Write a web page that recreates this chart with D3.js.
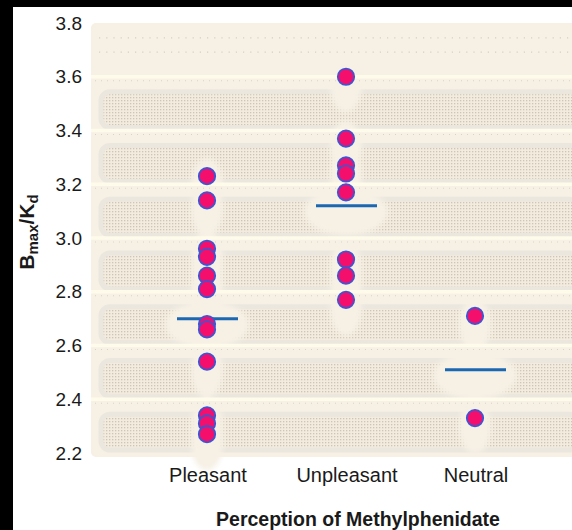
<!DOCTYPE html>
<html>
<head>
<meta charset="utf-8">
<script src="https://cdn.jsdelivr.net/npm/d3@7"></script>
<style>
  body { margin: 0; background: #000; }
  svg { display: block; }
  text { font-family: "Liberation Sans", Arial, Helvetica, sans-serif; fill: #1a1a1a; }
</style>
</head>
<body>
<div id="graphic"></div>
<script>
// data
var categories = ["Pleasant", "Unpleasant", "Neutral"];
var pleasant = [3.23, 3.14, 2.96, 2.93, 2.86, 2.81, 2.68, 2.66, 2.54, 2.34, 2.31, 2.27];
var unpleasant = [3.60, 3.37, 3.27, 3.24, 3.17, 2.92, 2.86, 2.77];
var neutral = [2.71, 2.33];
var means = [2.70, 3.12, 2.51];
var yTicks = [2.2, 2.4, 2.6, 2.8, 3.0, 3.2, 3.4, 3.6, 3.8];

var width = 572, height = 530;
var plotLeft = 91, plotTop = 23, plotBottom = 457;

var svg = d3.select("#graphic")
    .append("svg")
    .attr("width", width)
    .attr("height", height);

var y = d3.scaleLinear().domain([2.2, 3.8]).range([453, 23]);
var x = d3.scaleOrdinal().domain(categories).range([207, 346, 475]);

// flatten points
var points = [];
[pleasant, unpleasant, neutral].forEach(function(vals, i) {
    vals.forEach(function(v) {
        points.push({cat: categories[i], value: v});
    });
});

// defs: dot texture + soft blur
var defs = svg.append("defs");
var pat = defs.append("pattern")
    .attr("id", "dots")
    .attr("width", 3)
    .attr("height", 3)
    .attr("patternUnits", "userSpaceOnUse");
pat.append("rect").attr("width", 3).attr("height", 3).attr("fill", "#f3ecde");
pat.append("rect").attr("x", 1).attr("y", 1).attr("width", 1.3).attr("height", 1.3).attr("fill", "#cdc6b7");

defs.append("filter").attr("id", "soft")
    .append("feGaussianBlur").attr("stdDeviation", 2.5);

// white panel inside black frame
svg.append("rect")
    .attr("x", 13).attr("y", 7)
    .attr("width", width - 13).attr("height", height - 7)
    .attr("fill", "#ffffff");

// plot background
svg.append("rect")
    .attr("x", plotLeft).attr("y", plotTop)
    .attr("width", width - plotLeft + 10).attr("height", plotBottom - plotTop)
    .attr("rx", 5)
    .attr("fill", "#f6f0e5");

// textured bands between ticks (3.6 down to 2.2)
var bandTicks = yTicks.filter(function(t) { return t < 3.7; });
var bands = [];
for (var i = 0; i < bandTicks.length - 1; i++) {
    bands.push({lo: bandTicks[i], hi: bandTicks[i + 1]});
}
svg.append("g").selectAll("rect")
    .data(bands)
    .enter().append("rect")
    .attr("x", 101)
    .attr("y", function(d) { return y(d.hi) + 15; })
    .attr("width", width - 95)
    .attr("height", function(d) { return Math.min(y(d.lo) - 3, plotBottom) - (y(d.hi) + 15); })
    .attr("rx", 9)
    .attr("fill", "url(#dots)")
    .attr("stroke", "#ebe7df")
    .attr("stroke-width", 5);

// cleared areas around the points and mean lines
var halo = svg.append("g").attr("filter", "url(#soft)");
halo.selectAll("ellipse.pt")
    .data(points)
    .enter().append("ellipse")
    .attr("class", "pt")
    .attr("cx", function(d) { return x(d.cat); })
    .attr("cy", function(d) { return y(d.value) + 9; })
    .attr("rx", 16)
    .attr("ry", 27)
    .attr("fill", "#f6f0e5");
halo.selectAll("ellipse.mn")
    .data(means)
    .enter().append("ellipse")
    .attr("class", "mn")
    .attr("cx", function(d, i) { return x(categories[i]); })
    .attr("cy", function(d) { return y(d) + 6; })
    .attr("rx", 42)
    .attr("ry", 24)
    .attr("fill", "#f6f0e5");

// dotted rows in the top strip
svg.append("g").selectAll("line")
    .data([3.745, 3.692])
    .enter().append("line")
    .attr("x1", plotLeft + 8).attr("x2", width)
    .attr("y1", function(d) { return y(d); })
    .attr("y2", function(d) { return y(d); })
    .attr("stroke", "#d6d0c4")
    .attr("stroke-width", 1.2)
    .attr("stroke-dasharray", "1.2 6");

// light stripes at the ticks
var stripeTicks = yTicks.filter(function(t) { return t > 2.3 && t < 3.7; });
svg.append("g").selectAll("line")
    .data(stripeTicks)
    .enter().append("line")
    .attr("x1", plotLeft).attr("x2", width)
    .attr("y1", function(d) { return y(d); })
    .attr("y2", function(d) { return y(d); })
    .attr("stroke", "#fffbea")
    .attr("stroke-width", 3.5);
svg.append("g").selectAll("line")
    .data(stripeTicks)
    .enter().append("line")
    .attr("x1", plotLeft + 4).attr("x2", width)
    .attr("y1", function(d) { return y(d) + 4; })
    .attr("y2", function(d) { return y(d) + 4; })
    .attr("stroke", "#d9d3c6")
    .attr("stroke-width", 1)
    .attr("stroke-dasharray", "1 5");

// y axis labels
var yAxis = d3.axisLeft(y)
    .tickValues(yTicks)
    .tickSize(0)
    .tickPadding(9)
    .tickFormat(d3.format(".1f"));
var gy = svg.append("g")
    .attr("transform", "translate(" + plotLeft + ",0)")
    .call(yAxis);
gy.select(".domain").remove();
gy.selectAll("text")
    .attr("font-size", 19)
    .attr("fill", "#1a1a1a")
    .style("font-family", "'Liberation Sans', Arial, Helvetica, sans-serif");

// mean lines
svg.append("g").selectAll("line")
    .data(means)
    .enter().append("line")
    .attr("x1", function(d, i) { return x(categories[i]) - 30; })
    .attr("x2", function(d, i) { return x(categories[i]) + 31; })
    .attr("y1", function(d) { return y(d); })
    .attr("y2", function(d) { return y(d); })
    .attr("stroke", "#1b67b2")
    .attr("stroke-width", 3);

// points
svg.append("g").selectAll("circle")
    .data(points)
    .enter().append("circle")
    .attr("cx", function(d) { return x(d.cat); })
    .attr("cy", function(d) { return y(d.value); })
    .attr("r", 8.2)
    .attr("fill", "#f40f6d")
    .attr("stroke", "#3f55d0")
    .attr("stroke-width", 1.8);

// category labels
svg.append("g").selectAll("text")
    .data(categories)
    .enter().append("text")
    .attr("x", function(d) { return x(d) + 1; })
    .attr("y", 482)
    .attr("text-anchor", "middle")
    .attr("font-size", 20)
    .text(function(d) { return d; });

// axis titles
svg.append("text")
    .attr("x", 358)
    .attr("y", 526)
    .attr("text-anchor", "middle")
    .attr("font-size", 19.5)
    .attr("font-weight", "bold")
    .text("Perception of Methylphenidate");

var yt = svg.append("text")
    .attr("transform", "translate(34,232) rotate(-90)")
    .attr("text-anchor", "middle")
    .attr("font-size", 21)
    .attr("font-weight", "bold");
yt.append("tspan").text("B");
yt.append("tspan").attr("font-size", 15).attr("dy", 4).text("max");
yt.append("tspan").attr("dy", -4).text("/K");
yt.append("tspan").attr("font-size", 15).attr("dy", 4).text("d");
</script>
</body>
</html>
